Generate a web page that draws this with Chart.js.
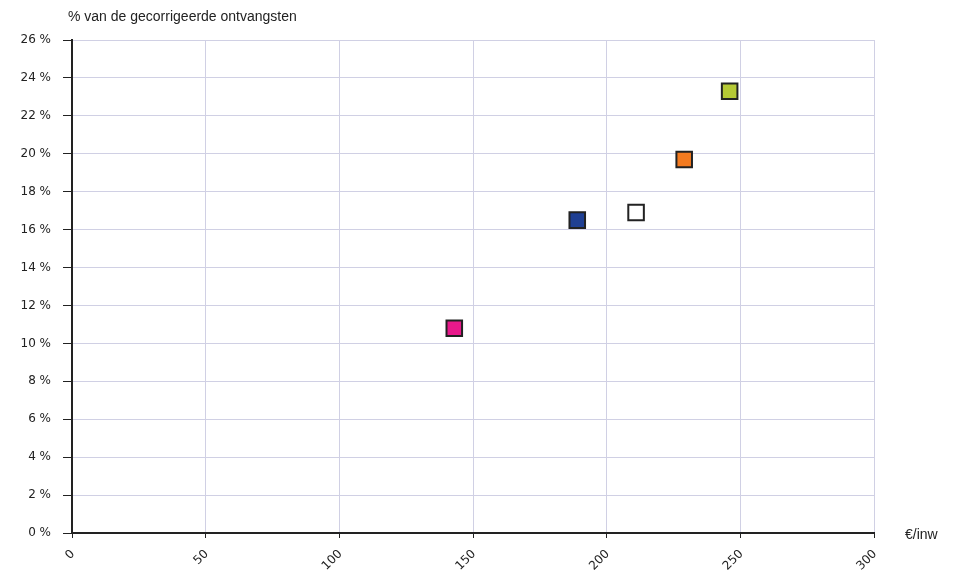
<!DOCTYPE html>
<html>
<head>
<meta charset="utf-8">
<script src="https://cdn.jsdelivr.net/npm/chart.js@4"></script>
<style>
  html, body { margin: 0; padding: 0; background: #fff; }
  #wrap { width: 962px; height: 573px; }
</style>
</head>
<body>
<div id="wrap"><canvas id="scatterChart" width="962" height="573"></canvas></div>
<script>
// Data
const xValues = [143, 189, 211, 229, 246];        // €/inw
const yValues = [10.8, 16.5, 16.9, 19.7, 23.3];   // % van de gecorrigeerde ontvangsten
const pointColors = ['#e8198b', '#1f3f93', '#ffffff', '#f47b20', '#b5c935'];
const xTicks = [0, 50, 100, 150, 200, 250, 300];
const yTicks = [0, 2, 4, 6, 8, 10, 12, 14, 16, 18, 20, 22, 24, 26];

const points = xValues.map((x, i) => ({ x: x, y: yValues[i] }));

// Axis captions drawn as plain text
const captions = {
    id: 'captions',
    afterDraw(chart) {
        const c = chart.ctx;
        const area = chart.chartArea;
        c.save();
        c.fillStyle = '#222';
        c.font = '14px "Liberation Sans", Arial, sans-serif';
        c.textBaseline = 'middle';
        c.textAlign = 'left';
        c.fillText('% van de gecorrigeerde ontvangsten', 68, 17);
        c.fillText('€/inw', area.right + 31, area.bottom + 2);
        c.restore();
    }
};

const ctx = document.getElementById('scatterChart').getContext('2d');
new Chart(ctx, {
    type: 'scatter',
    data: {
        datasets: [{
            data: points,
            pointStyle: 'rect',
            pointRadius: 11,
            pointHoverRadius: 11,
            pointBackgroundColor: pointColors,
            pointBorderColor: '#222',
            pointBorderWidth: 2
        }]
    },
    options: {
        responsive: false,
        animation: false,
        layout: { padding: { left: 0, top: 40, right: 88, bottom: 0 } },
        plugins: {
            legend: { display: false },
            tooltip: { enabled: false }
        },
        scales: {
            x: {
                type: 'linear',
                min: 0,
                max: 300,
                afterFit(scale) { scale.height = 40; },
                afterBuildTicks(scale) { scale.ticks = xTicks.map(v => ({ value: v })); },
                ticks: {
                    minRotation: 45,
                    maxRotation: 45,
                    padding: 9,
                    labelOffset: 1,
                    color: '#222',
                    font: { family: '"DejaVu Sans", sans-serif', size: 12 }
                },
                grid: { color: '#d0d0e4', lineWidth: 1, tickColor: '#222', tickLength: 5 },
                border: { color: '#222', width: 2 }
            },
            y: {
                type: 'linear',
                min: 0,
                max: 26,
                afterFit(scale) { scale.width = 72; },
                afterBuildTicks(scale) { scale.ticks = yTicks.map(v => ({ value: v })); },
                ticks: {
                    padding: 12,
                    color: '#222',
                    font: { family: '"DejaVu Sans", sans-serif', size: 12 },
                    callback: v => v + ' %'
                },
                grid: { color: '#d0d0e4', lineWidth: 1, tickColor: '#222', tickLength: 9 },
                border: { color: '#222', width: 2 }
            }
        }
    },
    plugins: [captions]
});
</script>
</body>
</html>
